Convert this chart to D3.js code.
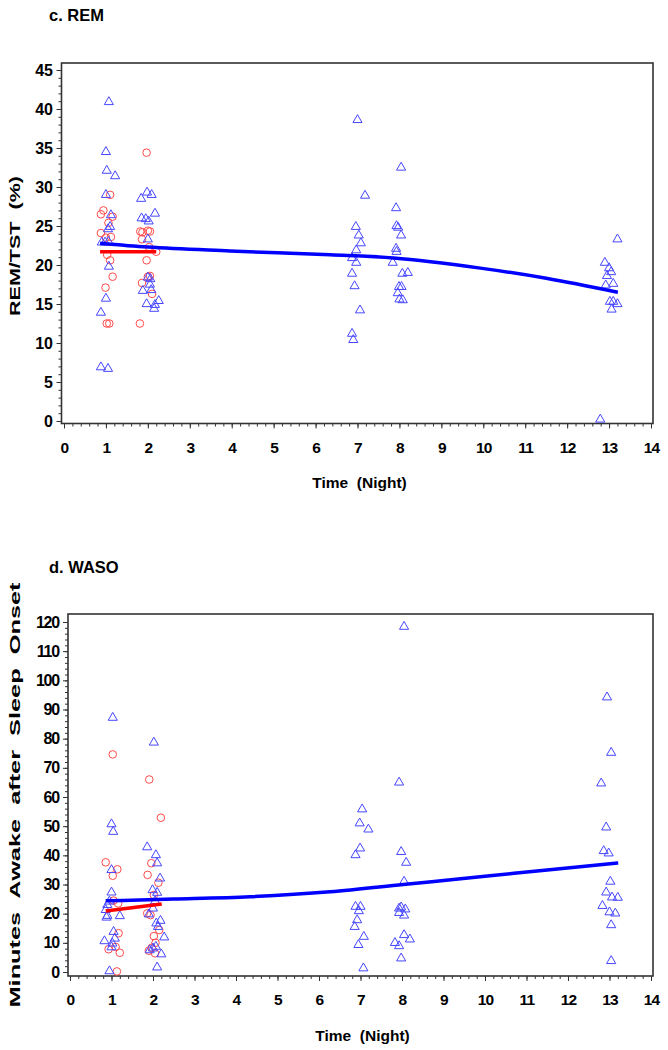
<!DOCTYPE html>
<html><head><meta charset="utf-8">
<script src="https://cdn.jsdelivr.net/npm/d3@7"></script>
<style>body{margin:0;background:#fff}svg{display:block}text{font-family:"Liberation Sans",Arial,sans-serif;font-weight:bold;fill:#000}</style>
</head><body>
<script>
// ---------- data ----------
const xTicks = [0,1,2,3,4,5,6,7,8,9,10,11,12,13,14];
const remYTicks = [0,5,10,15,20,25,30,35,40,45];
const wasoYTicks = [0,10,20,30,40,50,60,70,80,90,100,110,120];

const remTriangles = [
 [1.07,40.9],[1.0,34.5],[1.02,32.1],[1.22,31.4],[1.0,29.0],[1.12,26.4],[1.05,24.6],[1.1,24.9],
 [0.9,22.9],[0.98,22.9],[1.06,23.0],[1.07,19.8],[1.0,15.7],[0.88,13.9],[0.88,6.9],[1.05,6.7],
 [1.98,29.3],[2.09,29.0],[1.84,28.5],[2.17,26.6],[1.85,26.0],[1.95,25.9],[2.02,25.6],[2.0,23.3],
 [2.0,18.4],[2.06,18.2],[2.05,17.5],[1.88,16.7],[2.08,16.8],[1.97,15.0],[2.26,15.4],[2.15,14.4],[2.17,14.9],
 [7.0,38.6],[7.18,28.9],[6.96,24.9],[7.03,23.8],[7.08,22.8],[6.97,21.9],[6.87,20.9],[6.97,20.3],
 [6.87,18.9],[6.93,17.3],[7.06,14.2],[6.87,11.2],[6.9,10.4],
 [8.04,32.5],[7.92,27.3],[7.93,25.0],[7.97,24.8],[8.04,23.8],[7.92,22.1],[7.93,21.7],[7.84,20.3],
 [8.07,18.9],[8.2,19.0],[7.99,17.2],[8.05,17.2],[7.96,16.4],[8.0,15.6],[8.08,15.5],
 [13.2,23.3],[12.9,20.3],[13.0,19.6],[13.05,19.1],[12.95,18.6],[12.92,17.4],[13.1,17.6],
 [13.02,15.3],[13.1,15.3],[13.2,15.0],[13.06,14.3],[12.79,0.2]
];
const remCircles = [
 [1.1,29.0],[0.94,27.0],[0.88,26.5],[1.16,26.2],[1.06,25.4],[0.88,24.1],[1.0,23.5],[1.12,23.6],
 [1.03,21.3],[1.1,20.6],[1.16,18.5],[0.99,17.1],[1.02,12.5],[1.08,12.5],
 [1.97,34.4],[1.82,24.3],[1.87,24.2],[2.0,24.4],[2.05,24.3],[1.86,23.3],[2.03,22.3],[2.2,21.7],
 [1.97,20.6],[2.0,18.5],[2.05,18.6],[1.86,17.7],[2.1,16.3],[1.81,12.5]
];
const remBlueLine = [[0.86,22.8],[2,22.3],[3.96,21.8],[6.35,21.3],[7.86,20.9],[9.93,19.6],[11.5,18.3],[13.21,16.5]];
const remRedLine = [[0.86,21.7],[2.2,21.7]];

const wasoTriangles = [
 [1.03,87.2],[1.0,50.7],[1.04,48.1],[1.0,35.0],[1.0,27.3],[0.95,24.2],[0.9,23.0],[0.86,21.3],[0.9,19.3],
 [0.88,18.7],[1.2,19.2],[0.83,10.6],[1.05,13.8],[1.08,11.5],[1.02,9.8],[1.0,8.5],[0.95,0.3],
 [2.02,78.7],[1.86,42.8],[2.07,40.1],[2.1,37.3],[2.17,32.1],[1.99,28.1],[2.1,27.2],[2.05,24.3],[2.0,21.8],
 [1.9,19.8],[2.08,16.7],[2.18,17.6],[2.12,15.5],[2.27,11.9],[2.07,8.7],[2.0,8.1],[1.92,7.5],[2.2,6.1],[2.1,1.6],
 [7.04,55.8],[6.98,51.0],[7.19,48.9],[6.99,42.4],[6.88,40.1],[6.88,22.4],[7.0,22.4],[6.96,20.9],
 [6.92,17.8],[6.86,15.5],[7.08,12.1],[6.95,9.3],[7.07,1.3],
 [8.05,118.4],[7.93,65.0],[7.98,41.2],[8.1,37.5],[8.05,31.0],[7.93,21.8],[7.98,22.2],[8.08,21.5],
 [7.93,20.3],[8.05,19.4],[8.05,12.7],[8.19,11.2],[7.83,10.0],[7.93,8.9],[7.98,4.7],
 [12.94,94.2],[13.04,75.2],[12.8,64.7],[12.92,49.6],[12.86,41.5],[12.98,40.7],[13.02,31.0],[12.92,27.3],
 [13.06,25.6],[13.2,25.5],[12.83,22.7],[13.0,20.5],[13.14,20.1],[13.04,16.1],[13.04,3.8]
];
const wasoCircles = [
 [1.03,74.6],[0.86,37.6],[1.14,35.2],[1.03,33.0],[1.16,23.5],[1.05,24.5],[1.17,13.3],[0.93,7.8],
 [1.1,8.6],[1.2,6.6],[1.13,0.2],
 [1.91,66.0],[2.19,52.9],[1.96,37.3],[1.87,33.3],[2.13,30.6],[2.02,26.4],[1.86,20.1],[1.94,19.5],
 [2.15,14.4],[2.02,12.3],[2.06,10.0],[1.97,8.3],[2.05,6.4],[1.9,7.3]
];
const wasoBlueLine = [[0.86,24.4],[2.5,25.0],[4.34,25.8],[6.27,27.5],[8.03,30.0],[10.0,32.8],[11.5,35.0],[13.21,37.4]];
const wasoRedLine = [[0.86,20.9],[2.21,23.3]];

// ---------- drawing ----------
const W = 668, H = 1050;
const FONT = '"Liberation Sans",Arial,sans-serif';
const svg = d3.select("body").append("svg").attr("width", W).attr("height", H);

function panel(o) {
  const x = d3.scaleLinear().domain([0,14]).range(o.xr);
  const y = d3.scaleLinear().domain([0,o.ymax]).range(o.yr);
  const g = svg.append("g");
  g.append("text").attr("x", 49).attr("y", o.titleY).attr("font-size", 16.5).text(o.title);
  g.append("rect").attr("x", o.frame[0]).attr("y", o.frame[1])
    .attr("width", o.frame[2]-o.frame[0]).attr("height", o.frame[3]-o.frame[1])
    .attr("fill","none").attr("stroke","#333").attr("stroke-width",1.6);
  // y axis
  const yMinor = d3.range(0, o.ymax + 1e-9, o.ymax === 45 ? 1 : 2);
  const ya = g.append("g").attr("transform", `translate(${o.frame[0]},0)`);
  ya.call(d3.axisLeft(y).tickValues(yMinor).tickSize(3).tickFormat(""));
  ya.select(".domain").remove();
  const ya2 = g.append("g").attr("transform", `translate(${o.frame[0]},0)`);
  ya2.call(d3.axisLeft(y).tickValues(o.yTicks).tickSize(5).tickPadding(4));
  ya2.select(".domain").remove();
  ya2.selectAll("text").attr("font-size", 16).attr("letter-spacing", o.ls).attr("font-family",FONT).attr("font-weight","bold").attr("fill","#000");
  // x axis
  const xa = g.append("g").attr("transform", `translate(0,${o.frame[3]})`);
  xa.call(d3.axisBottom(x).tickValues(d3.range(0, 14.001, 0.2)).tickSize(3).tickFormat(""));
  xa.select(".domain").remove();
  const xa2 = g.append("g").attr("transform", `translate(0,${o.frame[3]})`);
  xa2.call(d3.axisBottom(x).tickValues(xTicks).tickSize(5).tickPadding(13));
  xa2.select(".domain").remove();
  xa2.selectAll("text").attr("font-size", 15.5).attr("letter-spacing", -0.8).attr("font-family",FONT).attr("font-weight","bold").attr("fill","#000");
  g.selectAll(".tick line").attr("stroke","#333");
  // axis titles
  g.append("text").attr("x", (o.xr[0]+o.xr[1])/2 + 2).attr("y", o.xTitleY).attr("text-anchor","middle")
    .attr("font-size", 15.5).style("white-space","pre").text("Time  (Night)");
  g.append("text").attr("transform", `translate(20,${o.yTitleC}) rotate(-90)`).attr("text-anchor","middle")
    .attr("font-size", 15.5).style("white-space","pre")
    .attr("textLength", o.yTitleLen).attr("lengthAdjust","spacingAndGlyphs").text(o.yTitle);
  // circles
  g.append("g").selectAll("circle").data(o.circles).join("circle")
    .attr("cx", d => x(d[0])).attr("cy", d => y(d[1])).attr("r", 3.8)
    .attr("fill","none").attr("stroke","#ff4a4a").attr("stroke-width",1);
  // triangles
  const tri = d3.symbol().type(d3.symbolTriangle).size(36);
  g.append("g").selectAll("path").data(o.triangles).join("path")
    .attr("d", tri).attr("transform", d => `translate(${x(d[0])},${y(d[1])})`)
    .attr("fill","none").attr("stroke","#4646ff").attr("stroke-width",1);
  // fitted lines
  const line = d3.line().x(d => x(d[0])).y(d => y(d[1])).curve(d3.curveMonotoneX);
  g.append("path").datum(o.blue).attr("d", line).attr("fill","none").attr("stroke","#0000ff").attr("stroke-width",3.5);
  g.append("path").datum(o.red).attr("d", line).attr("fill","none").attr("stroke","#ff0000").attr("stroke-width",3.5);
}

panel({
  title: "c. REM", titleY: 21,
  xr: [64, 651], yr: [421, 70], ymax: 45, frame: [61.5, 63, 653, 423.5],
  yTicks: remYTicks, ls: -0.3,
  xTitleY: 488, yTitle: "REM/TST  (%)", yTitleC: 246, yTitleLen: 140,
  triangles: remTriangles, circles: remCircles, blue: remBlueLine, red: remRedLine
});
panel({
  title: "d. WASO", titleY: 573,
  xr: [70, 651], yr: [972, 622], ymax: 120, frame: [68, 614, 653, 976],
  yTicks: wasoYTicks, ls: -1.2,
  xTitleY: 1041, yTitle: "Minutes  Awake  after  Sleep  Onset", yTitleC: 795, yTitleLen: 425,
  triangles: wasoTriangles, circles: wasoCircles, blue: wasoBlueLine, red: wasoRedLine
});
</script>
</body></html>
